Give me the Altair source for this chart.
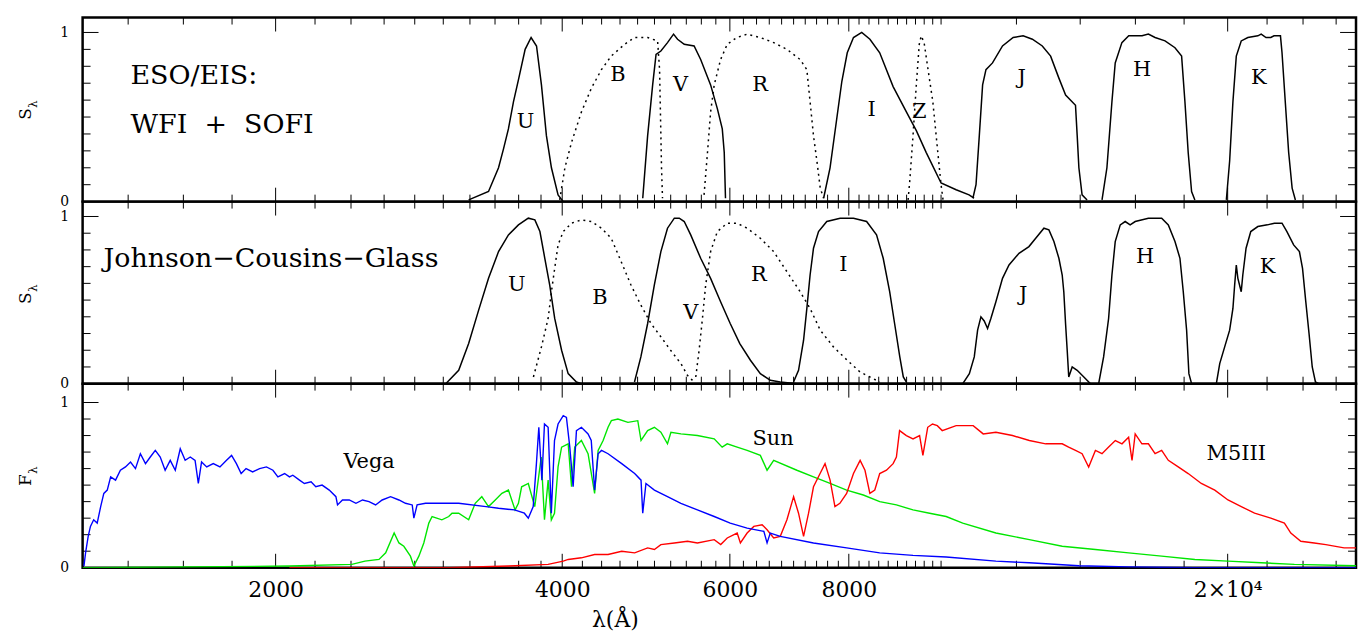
import altair as alt
import pandas as pd

FONT = "DejaVu Serif"
W = 1280
H1, H2, H3 = 185, 183, 185
Y1, Y2, Y3 = 1.088, 1.089, 1.114
XDOM = [1254, 27280]

# ---------------- Panel 1: ESO/EIS WFI + SOFI ----------------
eis_u_lam = [3190, 3347, 3429, 3470, 3512, 3555, 3598, 3657, 3710, 3759, 3804, 3850, 3897, 3960, 4010]
eis_u_s = [0.01, 0.06, 0.20, 0.31, 0.43, 0.59, 0.72, 0.90, 0.97, 0.92, 0.69, 0.39, 0.20, 0.04, 0.00]
eis_b_lam = [3976, 4026, 4091, 4190, 4292, 4398, 4503, 4651, 4764, 4918, 5038, 5062, 5074, 5086, 5098]
eis_b_s = [0.01, 0.20, 0.35, 0.53, 0.67, 0.78, 0.86, 0.93, 0.97, 0.97, 0.95, 0.78, 0.49, 0.20, 0.02]
eis_v_lam = [4860, 4918, 4978, 5019, 5078, 5160, 5236, 5287, 5373, 5503, 5591, 5727, 5821, 5891, 5919, 5937]
eis_v_s = [0.02, 0.39, 0.69, 0.87, 0.89, 0.94, 0.99, 0.96, 0.93, 0.92, 0.84, 0.69, 0.55, 0.43, 0.29, 0.02]
eis_r_lam = [5637, 5684, 5727, 5777, 5867, 5962, 6102, 6256, 6459, 6671, 6888, 7112, 7228, 7285, 7345, 7406, 7466, 7527]
eis_r_s = [0.04, 0.29, 0.53, 0.69, 0.84, 0.93, 0.97, 0.99, 0.97, 0.94, 0.90, 0.84, 0.78, 0.59, 0.39, 0.24, 0.08, 0.02]
eis_i_lam = [7527, 7645, 7770, 7866, 7970, 8091, 8254, 8419, 8621, 8905, 9195, 9419, 9648, 10000, 10371, 10700, 10830]
eis_i_s = [0.02, 0.20, 0.49, 0.71, 0.88, 0.97, 1.00, 0.96, 0.88, 0.68, 0.53, 0.42, 0.29, 0.11, 0.07, 0.04, 0.02]
eis_z_lam = [9233, 9270, 9344, 9419, 9486, 9531, 9598, 9667, 9803, 9922, 10000, 10048]
eis_z_s = [0.01, 0.12, 0.39, 0.69, 0.93, 0.98, 0.94, 0.82, 0.59, 0.29, 0.10, 0.01]
eis_j_lam = [10800, 10882, 10969, 11057, 11147, 11325, 11602, 11905, 12195, 12471, 12774, 13034, 13297, 13515, 13842, 13899, 13956, 14064, 14235]
eis_j_s = [0.02, 0.10, 0.39, 0.69, 0.78, 0.82, 0.92, 0.97, 0.98, 0.96, 0.92, 0.86, 0.73, 0.63, 0.57, 0.39, 0.20, 0.04, 0.01]
eis_h_lam = [14759, 14935, 15117, 15238, 15486, 15744, 16260, 16510, 16780, 17189, 17607, 17892, 18036, 18179, 18329, 18475]
eis_h_s = [0.01, 0.20, 0.59, 0.82, 0.94, 0.98, 0.98, 0.99, 0.97, 0.95, 0.91, 0.86, 0.59, 0.29, 0.06, 0.01]
eis_k_lam = [19937, 20096, 20256, 20422, 20667, 21000, 21513, 21690, 21944, 22200, 22372, 22724, 22810, 22990, 23180, 23375, 23560]
eis_k_s = [0.01, 0.24, 0.59, 0.86, 0.95, 0.97, 0.98, 0.99, 0.97, 0.97, 0.98, 0.98, 0.88, 0.59, 0.29, 0.08, 0.01]

p1_lab_lam = [3660, 4577, 5325, 6454, 8452, 9487, 12155, 16260, 21560]
p1_lab_v = [0.47, 0.75, 0.69, 0.69, 0.54, 0.53, 0.73, 0.78, 0.73]
p1_lab_txt = ["U", "B", "V", "R", "I", "Z", "J", "H", "K"]
p1_note_lam = [1408, 1408]
p1_note_v = [0.74, 0.453]
p1_note_txt = ["ESO/EIS:", "WFI\u00a0\u00a0+\u00a0\u00a0SOFI"]

# ---------------- Panel 2: Johnson-Cousins-Glass ----------------
jcg_u_lam = [3018, 3114, 3190, 3268, 3347, 3429, 3512, 3598, 3685, 3744, 3790, 3835, 3881, 3928, 3994, 4058, 4140, 4190]
jcg_u_s = [0.00, 0.08, 0.24, 0.44, 0.63, 0.79, 0.89, 0.95, 0.99, 0.98, 0.91, 0.75, 0.59, 0.39, 0.20, 0.06, 0.01, 0.00]
jcg_b_lam = [3731, 3804, 3866, 3897, 3928, 3960, 4010, 4091, 4190, 4292, 4398, 4503, 4613, 4724, 4838, 4958, 5078, 5199, 5330, 5415, 5503]
jcg_b_s = [0.04, 0.22, 0.39, 0.55, 0.69, 0.83, 0.91, 0.96, 0.98, 0.97, 0.93, 0.87, 0.73, 0.59, 0.47, 0.36, 0.28, 0.20, 0.12, 0.05, 0.01]
jcg_v_lam = [4764, 4838, 4918, 4998, 5078, 5160, 5246, 5309, 5373, 5458, 5591, 5727, 5867, 6005, 6146, 6306, 6459, 6618, 6778, 7058]
jcg_v_s = [0.01, 0.16, 0.36, 0.59, 0.79, 0.93, 0.99, 0.99, 0.97, 0.89, 0.75, 0.63, 0.49, 0.36, 0.24, 0.14, 0.06, 0.02, 0.01, 0.00]
jcg_r_lam = [5525, 5570, 5615, 5659, 5727, 5821, 5962, 6102, 6256, 6459, 6671, 6888, 7112, 7285, 7466, 7708, 7970, 8220, 8419, 8621]
jcg_r_s = [0.04, 0.20, 0.39, 0.59, 0.79, 0.91, 0.96, 0.96, 0.93, 0.87, 0.79, 0.67, 0.55, 0.45, 0.32, 0.22, 0.14, 0.07, 0.04, 0.01]
jcg_i_lam = [6999, 7084, 7171, 7228, 7285, 7345, 7435, 7585, 7834, 8091, 8352, 8555, 8694, 8831, 8937, 9050, 9127, 9195]
jcg_i_s = [0.01, 0.08, 0.26, 0.45, 0.65, 0.81, 0.91, 0.97, 0.99, 0.99, 0.97, 0.89, 0.75, 0.55, 0.36, 0.16, 0.04, 0.01]
jcg_j_lam = [10540, 10708, 10836, 10924, 11012, 11100, 11190, 11280, 11418, 11602, 11786, 12074, 12368, 12572, 12824, 12980, 13138, 13297, 13404, 13456, 13513, 13567, 13618, 13732, 13898, 14124, 14353]
jcg_j_s = [0.00, 0.06, 0.16, 0.32, 0.40, 0.375, 0.33, 0.39, 0.49, 0.63, 0.71, 0.78, 0.82, 0.87, 0.93, 0.92, 0.85, 0.75, 0.65, 0.55, 0.36, 0.20, 0.04, 0.10, 0.08, 0.04, 0.00]
jcg_h_lam = [14640, 14816, 14996, 15117, 15238, 15424, 15610, 15798, 15992, 16510, 17050, 17326, 17607, 17820, 17964, 18110, 18210, 18329]
jcg_h_s = [0.00, 0.16, 0.39, 0.65, 0.85, 0.95, 0.97, 0.95, 0.97, 0.99, 0.99, 0.95, 0.85, 0.75, 0.55, 0.32, 0.06, 0.00]
jcg_k_lam = [19460, 19620, 19856, 20096, 20256, 20341, 20422, 20500, 20667, 20746, 20910, 21150, 21513, 22020, 22396, 22810, 23082, 23460, 23790, 23970, 24160, 24350, 24540, 24730, 24920]
jcg_k_s = [0.00, 0.12, 0.22, 0.32, 0.45, 0.59, 0.71, 0.63, 0.55, 0.65, 0.81, 0.91, 0.94, 0.95, 0.96, 0.96, 0.91, 0.83, 0.79, 0.69, 0.49, 0.30, 0.10, 0.01, 0.00]

p2_lab_lam = [3583, 4381, 5460, 6434, 7895, 12195, 16381, 22020]
p2_lab_v = [0.59, 0.51, 0.42, 0.65, 0.71, 0.53, 0.76, 0.70]
p2_lab_txt = ["U", "B", "V", "R", "I", "J", "H", "K"]
p2_note_lam = [1319]
p2_note_v = [0.746]
p2_note_txt = ["Johnson\u2212Cousins\u2212Glass"]

# ---------------- Panel 3: spectra ----------------
vega_lam = [1258, 1263, 1271, 1278, 1288, 1299, 1310, 1320, 1331, 1342,
            1358, 1374, 1391, 1408, 1425, 1442, 1460, 1477, 1495, 1513,
            1531, 1550, 1569, 1588, 1607, 1627, 1646, 1659, 1672, 1693,
            1720, 1748, 1776, 1798, 1819, 1840, 1862, 1892, 1924, 1956,
            1987, 2011, 2044, 2068, 2085, 2119, 2144, 2179, 2204, 2238,
            2277, 2314, 2323, 2351, 2390, 2429, 2468, 2507, 2547, 2588,
            2641, 2695, 2738, 2783, 2794, 2816, 2874, 2920, 3016, 3114,
            3327, 3429, 3564, 3650, 3685, 3729, 3758, 3780, 3808, 3832,
            3866, 3896, 3926, 3960, 4010, 4041, 4074, 4107, 4140, 4190,
            4258, 4291, 4326, 4363, 4399, 4469, 4619, 4766, 4840, 4860,
            4898, 4999, 5160, 5330, 5547, 5777, 6005, 6256, 6514, 6565,
            6616, 6778, 7345, 7958, 8621, 9344, 10124, 11418, 12380, 13960,
            15740, 18475, 27280]
vega_f = [0.01, 0.09, 0.19, 0.25, 0.29, 0.27, 0.37, 0.45, 0.47, 0.55,
          0.53, 0.59, 0.61, 0.64, 0.60, 0.69, 0.63, 0.67, 0.71, 0.67,
          0.59, 0.65, 0.59, 0.72, 0.65, 0.67, 0.65, 0.51, 0.64, 0.61,
          0.63, 0.61, 0.65, 0.68, 0.63, 0.57, 0.60, 0.58, 0.60, 0.61,
          0.59, 0.55, 0.57, 0.55, 0.56, 0.53, 0.51, 0.52, 0.49, 0.50,
          0.47, 0.43, 0.38, 0.41, 0.41, 0.39, 0.41, 0.40, 0.38, 0.41,
          0.43, 0.41, 0.39, 0.38, 0.30, 0.38, 0.39, 0.39, 0.39, 0.39,
          0.37, 0.36, 0.35, 0.33, 0.30, 0.37, 0.63, 0.85, 0.53, 0.87,
          0.85, 0.33, 0.77, 0.87, 0.92, 0.91, 0.73, 0.49, 0.83, 0.85,
          0.81, 0.77, 0.47, 0.69, 0.71, 0.69, 0.63, 0.57, 0.53, 0.33,
          0.51, 0.47, 0.43, 0.39, 0.35, 0.31, 0.27, 0.24, 0.22, 0.15,
          0.21, 0.19, 0.15, 0.12, 0.09, 0.075, 0.065, 0.04, 0.03, 0.012,
          0.005, 0.0, 0.0]
sun_lam = [1254, 2068, 2405, 2482, 2568, 2610, 2664, 2695, 2727, 2771,
           2794, 2828, 2862, 2897, 2920, 2990, 3040, 3064, 3114, 3190,
           3241, 3293, 3347, 3402, 3457, 3512, 3569, 3598, 3626, 3685,
           3743, 3802, 3832, 3866, 3896, 3926, 3960, 3994, 4058, 4091,
           4123, 4190, 4258, 4326, 4363, 4416, 4469, 4505, 4577, 4689,
           4802, 4840, 4918, 4999, 5078, 5160, 5203, 5330, 5547, 5777,
           5889, 5962, 6107, 6256, 6459, 6565, 6671, 7056, 7345, 7646,
           7958, 8285, 8621, 8976, 9344, 9726, 10124, 10538, 11418, 12380,
           13404, 14525, 15740, 17050, 18475, 20016, 21690, 23500, 27280]
sun_f = [0.0, 0.01, 0.02, 0.04, 0.05, 0.09, 0.21, 0.15, 0.13, 0.07,
         0.01, 0.07, 0.15, 0.27, 0.31, 0.29, 0.31, 0.33, 0.33, 0.29,
         0.39, 0.43, 0.37, 0.41, 0.45, 0.47, 0.35, 0.39, 0.49, 0.51,
         0.37, 0.67, 0.29, 0.53, 0.29, 0.33, 0.61, 0.73, 0.75, 0.49,
         0.73, 0.77, 0.69, 0.45, 0.71, 0.77, 0.85, 0.89, 0.90, 0.88,
         0.89, 0.77, 0.83, 0.85, 0.82, 0.75, 0.82, 0.81, 0.80, 0.78,
         0.73, 0.75, 0.73, 0.71, 0.68, 0.59, 0.65, 0.59, 0.55, 0.51,
         0.47, 0.44, 0.40, 0.38, 0.35, 0.33, 0.31, 0.27, 0.21, 0.17,
         0.13, 0.11, 0.09, 0.07, 0.05, 0.04, 0.03, 0.02, 0.012]
m5_lam = [2068, 3040, 3512, 3866, 4010, 4058, 4190, 4326, 4469, 4619,
          4766, 4918, 4999, 5078, 5246, 5416, 5547, 5777, 5869, 5962,
          6107, 6155, 6256, 6358, 6487, 6565, 6671, 6778, 6888, 7000,
          7084, 7171, 7258, 7345, 7463, 7553, 7646, 7736, 7829, 7958,
          8091, 8222, 8319, 8418, 8519, 8621, 8763, 8905, 8976, 9045,
          9195, 9344, 9494, 9570, 9682, 9795, 9909, 10028, 10371, 10808,
          11073, 11418, 11885, 12380, 12878, 13404, 13615, 13842, 14065, 14290,
          14525, 14759, 14998, 15241, 15490, 15740, 15870, 15992, 16254, 16511,
          16780, 17050, 17326, 17746, 18179, 18765, 19386, 20016, 20670, 21344,
          22200, 22941, 23300, 23870, 24658, 25360, 26504, 27280]
m5_f = [0.0, 0.0, 0.01, 0.02, 0.04, 0.05, 0.06, 0.08, 0.08, 0.10,
        0.09, 0.12, 0.11, 0.14, 0.15, 0.16, 0.15, 0.17, 0.14, 0.18,
        0.21, 0.15, 0.21, 0.25, 0.26, 0.23, 0.18, 0.19, 0.29, 0.43,
        0.33, 0.19, 0.33, 0.49, 0.57, 0.63, 0.53, 0.37, 0.39, 0.45,
        0.57, 0.65, 0.59, 0.45, 0.47, 0.57, 0.59, 0.63, 0.67, 0.83,
        0.80, 0.78, 0.80, 0.68, 0.85, 0.87, 0.86, 0.83, 0.86, 0.86,
        0.81, 0.82, 0.80, 0.77, 0.75, 0.75, 0.73, 0.71, 0.69, 0.61,
        0.71, 0.69, 0.73, 0.77, 0.75, 0.79, 0.65, 0.81, 0.75, 0.75,
        0.69, 0.71, 0.65, 0.61, 0.57, 0.51, 0.47, 0.41, 0.37, 0.33,
        0.30, 0.27, 0.21, 0.16, 0.15, 0.14, 0.12, 0.12]

p3_lab_lam = [2507, 6662, 20420]
p3_lab_v = [0.64, 0.78, 0.69]
p3_lab_txt = ["Vega", "Sun", "M5III"]

# ---------------- ticks ----------------
x_major_ticks = [2000, 4000, 6000, 8000, 20000]
x_minor_ticks = [v for v in list(range(1400, 10001, 200)) + list(range(12000, 27001, 2000))
                 if v not in x_major_ticks]
y_major_ticks = [0, 1]
y_minor_ticks = [0.1, 0.2, 0.3, 0.4, 0.5, 0.6, 0.7, 0.8, 0.9]


def xs(field, axis=None):
    return alt.X(field, type="quantitative",
                 scale=alt.Scale(type="log", domain=XDOM, nice=False), axis=axis)


def ys(field, ymax, axis=None):
    return alt.Y(field, type="quantitative",
                 scale=alt.Scale(domain=[0, ymax], nice=False, zero=False), axis=axis)


def curves(pairs):
    rows = []
    for name, lam, val in pairs:
        rows += [{"band": name, "lam": a, "v": b} for a, b in zip(lam, val)]
    return pd.DataFrame(rows)


YAXIS = alt.Axis(values=y_major_ticks, ticks=False, domain=False, grid=False,
                 labelFont=FONT, labelFontSize=14, labelPadding=14, labelFlush=False,
                 labelColor="black", title=None, format="d")

XAXIS = alt.Axis(values=x_major_ticks,
                 labelExpr="datum.value == 20000 ? '2×10⁴' : toString(datum.value)",
                 ticks=False, domain=False, grid=False, labelFont=FONT, labelFontSize=22,
                 labelPadding=12, labelFlush=False, labelOverlap=False, labelColor="black",
                 title="λ(Å)", titleFont=FONT, titleFontSize=22, titleFontWeight="normal",
                 titleColor="black", titleX=535, titleY=64, titleAlign="center",
                 titleBaseline="bottom", titleAnchor="start")


def tick_layers(H, ymax, xaxis):
    out = []
    for tv, ln in ((x_minor_ticks, 7), (x_major_ticks, 14)):
        base = alt.Chart(pd.DataFrame({"t": tv})).mark_rule(color="black", strokeWidth=1)
        out.append(base.encode(x=xs("t", xaxis), y=alt.value(H), y2=alt.value(H - ln)))
        out.append(base.encode(x=xs("t", xaxis), y=alt.value(0), y2=alt.value(ln)))
    for tv, ln in ((y_minor_ticks, 8), (y_major_ticks, 16)):
        base = alt.Chart(pd.DataFrame({"t": tv})).mark_rule(color="black", strokeWidth=1)
        out.append(base.encode(y=ys("t", ymax, YAXIS), x=alt.value(0), x2=alt.value(ln)))
        out.append(base.encode(y=ys("t", ymax, YAXIS), x=alt.value(W), x2=alt.value(W - ln)))
    return out


def ytitle(main):
    d = pd.DataFrame({"k": [0]})
    a = alt.Chart(d).mark_text(text=main, angle=270, font=FONT, fontSize=17, color="black").encode(
        x=alt.value(-57), y=alt.value(97))
    b = alt.Chart(d).mark_text(text="λ", angle=270, font=FONT, fontSize=12, color="black").encode(
        x=alt.value(-50), y=alt.value(87))
    return [a, b]


def texts(lams, vals, txts, ymax, size, xaxis, **kw):
    d = pd.DataFrame({"lam": lams, "v": vals, "txt": txts})
    return alt.Chart(d).mark_text(font=FONT, fontSize=size, color="black", **kw).encode(
        x=xs("lam", xaxis), y=ys("v", ymax, YAXIS), text="txt:N")


def filter_panel(H, ymax, solid, dotted, lab, note):
    sol = alt.Chart(curves(solid)).mark_line(color="black", strokeWidth=1.5).encode(
        x=xs("lam"), y=ys("v", ymax, YAXIS), detail="band:N")
    dot = alt.Chart(curves(dotted)).mark_line(color="black", strokeWidth=1.5, strokeDash=[2, 4]).encode(
        x=xs("lam"), y=ys("v", ymax, YAXIS), detail="band:N")
    return alt.layer(
        *tick_layers(H, ymax, None), dot, sol,
        texts(*lab, ymax, 21, None),
        texts(*note, ymax, 27, None, align="left"),
        *ytitle("S"),
    ).properties(width=W, height=H)


panel1 = filter_panel(
    H1, Y1,
    [("U", eis_u_lam, eis_u_s), ("V", eis_v_lam, eis_v_s), ("I", eis_i_lam, eis_i_s),
     ("J", eis_j_lam, eis_j_s), ("H", eis_h_lam, eis_h_s), ("K", eis_k_lam, eis_k_s)],
    [("B", eis_b_lam, eis_b_s), ("R", eis_r_lam, eis_r_s), ("Z", eis_z_lam, eis_z_s)],
    (p1_lab_lam, p1_lab_v, p1_lab_txt), (p1_note_lam, p1_note_v, p1_note_txt))

panel2 = filter_panel(
    H2, Y2,
    [("U", jcg_u_lam, jcg_u_s), ("V", jcg_v_lam, jcg_v_s), ("I", jcg_i_lam, jcg_i_s),
     ("J", jcg_j_lam, jcg_j_s), ("H", jcg_h_lam, jcg_h_s), ("K", jcg_k_lam, jcg_k_s)],
    [("B", jcg_b_lam, jcg_b_s), ("R", jcg_r_lam, jcg_r_s)],
    (p2_lab_lam, p2_lab_v, p2_lab_txt), (p2_note_lam, p2_note_v, p2_note_txt))


def spectrum(lam, f, color):
    d = pd.DataFrame({"lam": lam, "v": f})
    return alt.Chart(d).mark_line(color=color, strokeWidth=1.4, clip=True).encode(
        x=xs("lam", XAXIS), y=ys("v", Y3, YAXIS))


panel3 = alt.layer(
    *tick_layers(H3, Y3, XAXIS),
    spectrum(sun_lam, sun_f, "#00e600"),
    spectrum(m5_lam, m5_f, "#ff0000"),
    spectrum(vega_lam, vega_f, "#0000ff"),
    texts(p3_lab_lam, p3_lab_v, p3_lab_txt, Y3, 21, XAXIS),
    *ytitle("F"),
).properties(width=W, height=H3)

chart = alt.vconcat(panel1, panel2, panel3, spacing=0, bounds="flush").properties(
    padding={"left": 7, "top": 6, "right": 0, "bottom": 0}
).configure_view(stroke="black", strokeWidth=2.5)

chart.save("out.html", embed_options={"renderer": "svg", "actions": False})
